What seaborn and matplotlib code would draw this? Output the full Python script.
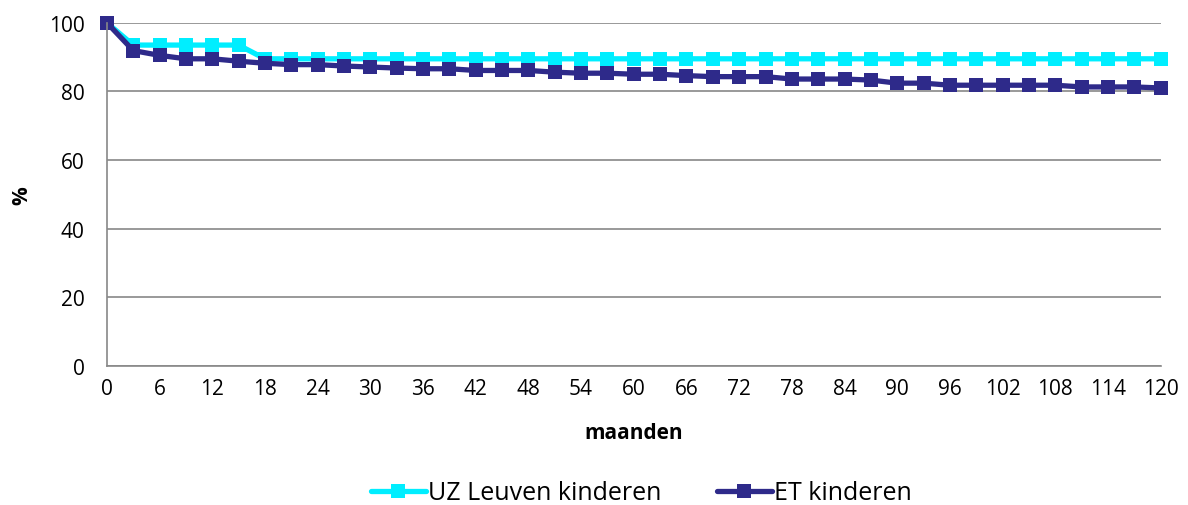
import matplotlib
matplotlib.use("Agg")
import matplotlib.pyplot as plt
import seaborn as sns
import pandas as pd
import numpy as np

# months, every 3 months up to 10 years
maanden = list(range(0, 121, 3))

uz_leuven = [100, 93.5, 93.5, 93.5, 93.5, 93.5] + [89.5] * 35

et_kinderen = [100, 91.9, 90.5, 89.5, 89.5, 88.8, 88.2, 87.8, 87.8, 87.4,
               87.1, 86.8, 86.6, 86.6, 86.1, 86.1, 86.1, 85.6, 85.3, 85.3,
               85.0, 85.0, 84.6, 84.3, 84.3, 84.3, 83.6, 83.6, 83.6, 83.3,
               82.4, 82.4, 81.8, 81.8, 81.8, 81.8, 81.8, 81.3, 81.3, 81.3,
               81.0]

series_names = ["UZ Leuven kinderen", "ET kinderen"]
colors = ["#00EEFF", "#2E2A8A"]

df = pd.DataFrame({
    "maanden": maanden * 2,
    "pct": uz_leuven + et_kinderen,
    "reeks": [series_names[0]] * len(maanden) + [series_names[1]] * len(maanden),
})

sns.set_style("white")
plt.rcParams["font.family"] = ["Open Sans", "DejaVu Sans"]
plt.rcParams["text.color"] = "black"
plt.rcParams["axes.labelcolor"] = "black"
plt.rcParams["xtick.labelcolor"] = "black"
plt.rcParams["ytick.labelcolor"] = "black"

fig, ax = plt.subplots(figsize=(11.88, 5.06), dpi=100)
fig.subplots_adjust(left=0.09, right=0.977, top=0.953, bottom=0.275)

sns.lineplot(data=df, x="maanden", y="pct", hue="reeks", palette=colors,
             marker="s", markersize=9.5, markeredgewidth=0, linewidth=3.8,
             ax=ax, legend=False)
for line in ax.lines:
    line.set_clip_on(False)

ax.set_xlim(0, 120)
ax.set_ylim(0, 100)
ax.set_xticks(range(0, 121, 6))
ax.set_xticks(range(0, 121, 3), minor=True)
ax.set_yticks(range(0, 101, 20))
ax.tick_params(axis="both", labelsize=15, color="#888888", direction="out")
ax.tick_params(axis="x", which="both", length=6, width=1.2, pad=3)
ax.tick_params(axis="y", length=6, width=1.2, pad=10)
ax.yaxis.grid(True, color="#888888", linewidth=1.2)
ax.set_axisbelow(True)

for s in ["top", "right"]:
    ax.spines[s].set_visible(False)
for s in ["left", "bottom"]:
    ax.spines[s].set_color("#888888")
    ax.spines[s].set_linewidth(1.2)

ax.set_xlabel("maanden", fontsize=15, fontweight="bold", labelpad=16)
ax.set_ylabel("%", fontsize=15, fontweight="bold", labelpad=12)

handles = [plt.Line2D([], [], color=c, marker="s", markersize=9.5,
                      markeredgewidth=0, linewidth=3.8) for c in colors]
fig.legend(handles, series_names, loc="lower center", ncol=2, frameon=False,
           fontsize=18, bbox_to_anchor=(0.54, -0.045), handlelength=2.2,
           handletextpad=0.1, columnspacing=2.2)

fig.savefig("out.png", dpi=100)
